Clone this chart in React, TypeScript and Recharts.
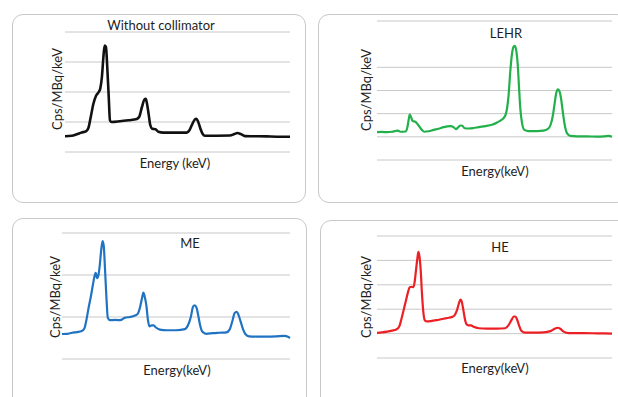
import React from "react";
import { LineChart, Line, XAxis, YAxis, CartesianGrid } from "recharts";

// ---- Data (energy in arbitrary channel units 0-100, counts in Cps/MBq/keV arbitrary units) ----
const energyNoColl = [0, 3.0, 5.2, 7.4, 9.3, 10.4, 11.4, 12.6, 13.8, 15.0, 15.7, 16.4, 17.0, 17.6, 18.2, 18.8, 19.4, 20.0, 20.7, 24.4, 28.2, 31.9, 33.0, 34.2, 35.3, 35.9, 36.4, 37.2, 37.9, 38.8, 40.2, 41.5, 43.7, 54.1, 55.3, 56.4, 57.6, 58.4, 59.1, 60.2, 61.2, 62.2, 73.3, 75.3, 76.6, 78.1, 80.0, 83.7, 89.6, 94.1, 100];
const countsNoColl = [0.05, 0.08, 0.18, 0.3, 0.38, 0.6, 1.3, 2.2, 2.75, 3.0, 3.25, 4.0, 5.2, 6.1, 6.0, 4.6, 2.8, 1.1, 1.0, 1.05, 1.12, 1.2, 1.35, 2.0, 2.5, 2.55, 2.25, 1.5, 0.8, 0.55, 0.52, 0.35, 0.29, 0.29, 0.45, 0.8, 1.15, 1.22, 1.05, 0.55, 0.2, 0.08, 0.1, 0.2, 0.27, 0.2, 0.06, 0.05, 0.04, 0.02, 0.02];

const energyLEHR = [0, 2.1, 4.3, 6.4, 7.8, 8.8, 9.9, 12.1, 12.9, 13.5, 13.9, 14.5, 15.2, 16.3, 17.7, 19.1, 20.1, 22.0, 24.1, 26.2, 28.4, 31.2, 32.6, 33.6, 34.6, 35.5, 36.3, 37.3, 39.0, 41.1, 43.3, 46.1, 48.9, 51.1, 53.2, 54.6, 55.3, 56.0, 56.7, 57.4, 58.2, 58.7, 59.3, 59.9, 60.4, 61.0, 61.7, 62.7, 64.5, 68.1, 70.9, 72.6, 73.8, 74.8, 75.6, 76.3, 77.0, 77.7, 78.4, 79.1, 79.9, 80.9, 82.3, 85.1, 89.4, 93.6, 96.5, 98.6, 100];
const countsLEHR = [0.2, 0.21, 0.2, 0.22, 0.25, 0.27, 0.22, 0.23, 0.4, 0.75, 0.96, 0.85, 0.68, 0.65, 0.49, 0.3, 0.22, 0.24, 0.3, 0.35, 0.42, 0.46, 0.42, 0.33, 0.42, 0.49, 0.48, 0.37, 0.36, 0.38, 0.42, 0.46, 0.52, 0.62, 0.75, 0.92, 1.2, 1.8, 2.8, 3.55, 3.9, 3.93, 3.7, 3.1, 2.2, 1.2, 0.6, 0.3, 0.25, 0.25, 0.27, 0.33, 0.5, 0.9, 1.45, 1.9, 2.05, 1.95, 1.6, 1.05, 0.5, 0.15, 0.04, 0.02, 0.02, 0.01, 0.02, 0.04, 0.0];

const energyME = [0, 2.2, 4.4, 6.6, 8.7, 9.8, 10.6, 11.6, 12.7, 13.5, 14.4, 14.8, 15.4, 16.0, 16.6, 17.2, 17.8, 18.3, 18.9, 19.5, 20.1, 21.1, 23.3, 25.5, 27.7, 29.8, 32.0, 33.2, 34.2, 35.1, 35.7, 36.2, 37.0, 37.7, 38.4, 39.3, 40.2, 41.2, 42.9, 45.9, 50.2, 53.9, 55.3, 56.5, 57.5, 58.2, 59.0, 59.7, 60.6, 61.6, 63.3, 66.2, 69.1, 72.1, 73.5, 74.7, 75.7, 76.6, 77.4, 78.3, 79.3, 80.5, 82.0, 85.2, 89.5, 93.9, 97.5, 99.1, 100];
const countsME = [0.19, 0.2, 0.25, 0.28, 0.33, 0.45, 0.8, 1.4, 2.0, 2.5, 3.0, 3.1, 2.85, 3.0, 3.5, 4.2, 4.62, 4.4, 3.2, 1.9, 0.95, 0.85, 0.86, 0.85, 0.97, 1.0, 1.07, 1.15, 1.45, 1.9, 2.16, 2.0, 1.55, 0.85, 0.55, 0.6, 0.6, 0.5, 0.4, 0.37, 0.37, 0.42, 0.62, 1.0, 1.5, 1.56, 1.45, 1.1, 0.6, 0.3, 0.2, 0.23, 0.25, 0.27, 0.4, 0.8, 1.18, 1.25, 1.1, 0.8, 0.45, 0.18, 0.08, 0.07, 0.07, 0.08, 0.1, 0.06, 0.0];

const energyHE = [0, 2.1, 4.3, 6.4, 8.2, 9.4, 10.4, 11.3, 12.3, 13.2, 13.9, 14.8, 15.5, 16.0, 16.6, 17.2, 17.6, 18.0, 18.6, 19.1, 19.7, 20.3, 21.3, 23.4, 25.5, 27.7, 29.8, 31.9, 33.0, 34.0, 34.9, 35.5, 36.0, 36.6, 37.3, 38.0, 38.9, 40.0, 41.1, 43.3, 46.8, 51.1, 54.6, 56.0, 57.2, 58.2, 58.9, 59.6, 60.4, 61.4, 63.1, 66.7, 70.9, 73.8, 75.6, 76.9, 78.0, 79.4, 81.6, 87.9, 93.6, 100];
const countsHE = [0.03, 0.05, 0.08, 0.12, 0.17, 0.28, 0.6, 0.95, 1.35, 1.7, 1.9, 1.92, 1.9, 2.1, 2.6, 3.1, 3.35, 3.2, 2.6, 1.7, 0.9, 0.55, 0.5, 0.52, 0.55, 0.6, 0.64, 0.68, 0.75, 0.95, 1.25, 1.39, 1.33, 1.05, 0.65, 0.4, 0.34, 0.34, 0.28, 0.22, 0.2, 0.2, 0.22, 0.35, 0.55, 0.7, 0.7, 0.58, 0.35, 0.12, 0.04, 0.04, 0.05, 0.1, 0.2, 0.24, 0.2, 0.08, 0.02, 0.02, 0.01, 0.0];

const ticksNoColl = [-1, 0, 1, 2, 3, 4, 5, 6, 7];
const ticksLEHR = [-1, 0, 1, 2, 3, 4, 5];
const ticksME = [-1, 0, 1, 2, 3, 4, 5];
const ticksHE = [-1, 0, 1, 2, 3, 4];

const titles = ["Without collimator", "LEHR", "ME", "HE"];
const xLabels = ["Energy (keV)", "Energy(keV)", "Energy(keV)", "Energy(keV)"];
const yLabel = "Cps/MBq/keV";

const FONT = "Lato, 'Open Sans', sans-serif";

type Box = { left: number; top: number; width: number; height: number };
type Plot = { left: number; top: number; right: number; bottom: number };
type Pt = { x: number; y: number };

function build(energy: number[], counts: number[]) {
  return energy.map((e, i) => ({ e, c: counts[i] }));
}

function Panel(props: {
  box: Box;
  plot: Plot;
  energy: number[];
  counts: number[];
  ticks: number[];
  color: string;
  strokeWidth: number;
  title: string;
  titlePos: Pt;
  xLabel: string;
  xLabelPos: Pt;
  yLabelPos: Pt;
}) {
  const { box, plot } = props;
  const data = build(props.energy, props.counts);
  const margin = {
    left: plot.left - box.left,
    top: plot.top - box.top,
    right: box.left + box.width - plot.right,
    bottom: box.top + box.height - plot.bottom,
  };
  const textStyle: React.CSSProperties = {
    position: "absolute",
    fontFamily: FONT,
    color: "#1e1e1e",
    whiteSpace: "nowrap",
    lineHeight: 1,
  };
  return (
    <>
      <div
        style={{
          position: "absolute",
          left: box.left,
          top: box.top,
          width: box.width,
          height: box.height,
          border: "1px solid #c8c8c8",
          borderRadius: 11,
          boxSizing: "border-box",
          background: "#fff",
        }}
      />
      <div style={{ position: "absolute", left: box.left, top: box.top }}>
        <LineChart width={box.width} height={box.height} data={data} margin={margin}>
          <CartesianGrid vertical={false} stroke="#c8c8c8" strokeWidth={1} />
          <XAxis dataKey="e" type="number" domain={[0, 100]} hide />
          <YAxis
            type="number"
            domain={[props.ticks[0], props.ticks[props.ticks.length - 1]]}
            ticks={props.ticks}
            hide
          />
          <Line
            type="monotone"
            dataKey="c"
            stroke={props.color}
            strokeWidth={props.strokeWidth}
            dot={false}
            isAnimationActive={false}
          />
        </LineChart>
      </div>
      <div
        style={{
          ...textStyle,
          left: props.titlePos.x,
          top: props.titlePos.y,
          transform: "translate(-50%, -50%)",
          fontSize: 13,
        }}
      >
        {props.title}
      </div>
      <div
        style={{
          ...textStyle,
          left: props.xLabelPos.x,
          top: props.xLabelPos.y,
          transform: "translate(-50%, -50%)",
          fontSize: 13,
        }}
      >
        {props.xLabel}
      </div>
      <div
        style={{
          ...textStyle,
          left: props.yLabelPos.x,
          top: props.yLabelPos.y,
          transform: "translate(-50%, -50%) rotate(-90deg)",
          fontSize: 13,
        }}
      >
        {yLabel}
      </div>
    </>
  );
}

export default function App() {
  return (
    <div
      style={{
        position: "absolute",
        left: 0,
        top: 0,
        width: 618,
        height: 397,
        overflow: "hidden",
        background: "#fff",
      }}
    >
      <Panel
        box={{ left: 12, top: 14, width: 294, height: 189 }}
        plot={{ left: 65, top: 32, right: 290, bottom: 152 }}
        energy={energyNoColl}
        counts={countsNoColl}
        ticks={ticksNoColl}
        color="#111111"
        strokeWidth={2.6}
        title={titles[0]}
        titlePos={{ x: 161, y: 25 }}
        xLabel={xLabels[0]}
        xLabelPos={{ x: 175, y: 163 }}
        yLabelPos={{ x: 57, y: 89 }}
      />
      <Panel
        box={{ left: 318, top: 14, width: 310, height: 189 }}
        plot={{ left: 377, top: 21, right: 612, bottom: 160 }}
        energy={energyLEHR}
        counts={countsLEHR}
        ticks={ticksLEHR}
        color="#22b04b"
        strokeWidth={2.2}
        title={titles[1]}
        titlePos={{ x: 506, y: 33 }}
        xLabel={xLabels[1]}
        xLabelPos={{ x: 495, y: 171 }}
        yLabelPos={{ x: 366, y: 90 }}
      />
      <Panel
        box={{ left: 12, top: 218, width: 295, height: 190 }}
        plot={{ left: 62, top: 233, right: 290, bottom: 359 }}
        energy={energyME}
        counts={countsME}
        ticks={ticksME}
        color="#1f73c2"
        strokeWidth={2.2}
        title={titles[2]}
        titlePos={{ x: 190, y: 243 }}
        xLabel={xLabels[2]}
        xLabelPos={{ x: 177, y: 370 }}
        yLabelPos={{ x: 55, y: 297 }}
      />
      <Panel
        box={{ left: 320, top: 220, width: 310, height: 190 }}
        plot={{ left: 377, top: 236, right: 612, bottom: 358 }}
        energy={energyHE}
        counts={countsHE}
        ticks={ticksHE}
        color="#ec1f25"
        strokeWidth={2.2}
        title={titles[3]}
        titlePos={{ x: 500, y: 247 }}
        xLabel={xLabels[3]}
        xLabelPos={{ x: 495, y: 368 }}
        yLabelPos={{ x: 366, y: 297 }}
      />
    </div>
  );
}
